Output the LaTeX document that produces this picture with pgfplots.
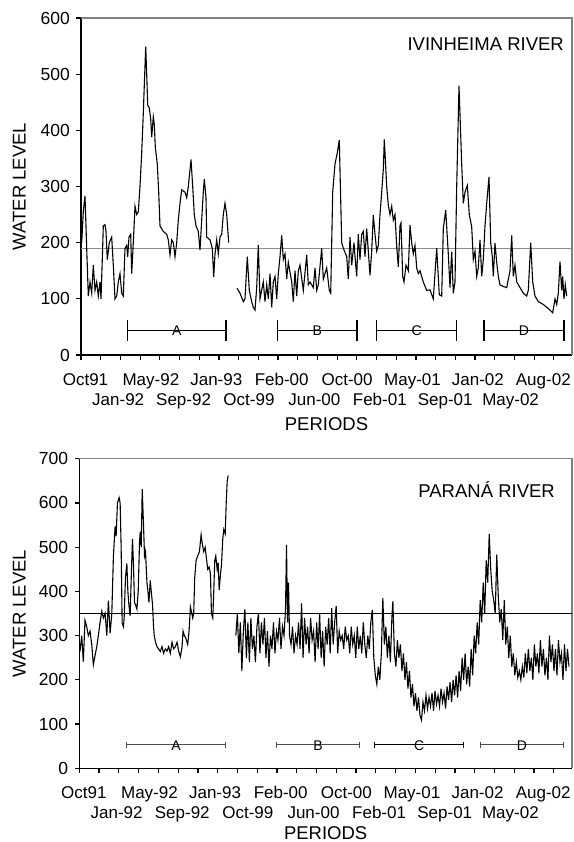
\documentclass[border=0pt]{standalone}
\usepackage{fontspec}
\setmainfont{Liberation Sans}
\usepackage{pgfplots}
\pgfplotsset{compat=1.18}

\definecolor{framegray}{RGB}{128,128,128}
\definecolor{meangray}{RGB}{140,140,140}
\newcommand\lo[1]{\raisebox{-20pt}{#1}}

\pgfplotsset{
  river/.style={
    scale only axis,
    axis x line*=bottom,
    axis y line*=left,
    axis line style={line width=1.2pt},
    xmin=0, xmax=491,
    tick align=outside,
    xtick={4.5,37.2,69.9,102.6,135.3,168,200.7,233.4,266.1,298.8,331.5,364.2,396.9,429.6,462.3},
    xticklabels={Oct91,\lo{Jan-92},May-92,\lo{Sep-92},Jan-93,\lo{Oct-99},Feb-00,\lo{Jun-00},Oct-00,\lo{Feb-01},May-01,\lo{Sep-01},Jan-02,\lo{May-02},Aug-02},
    minor xtick={0,19.7,...,473},
    major tick length=4.5pt,
    minor tick length=5pt,
    major x tick style={draw=none},
    minor x tick style={black,line width=1.2pt},
    major y tick style={black,line width=1.2pt},
    tick label style={font=\fontsize{17}{20}\selectfont},
    yticklabel style={font=\fontsize{17.5}{20}\selectfont},
    /pgf/number format/assume math mode=true,
    xticklabel style={anchor=base, yshift=-26pt},
    yticklabel style={anchor=east, inner sep=0pt, xshift=-6.5pt},
    label style={font=\fontsize{18.5}{22}\selectfont},
    xlabel={PERIODS},
    ylabel={WATER LEVEL},
    unbounded coords=jump,
    clip=false,
  },
}
\tikzset{letter/.style={font=\fontsize{14}{16}\selectfont, inner sep=0pt}}

\begin{document}
\begin{tikzpicture}
\useasboundingbox (-81pt,355pt) rectangle (492pt,-487pt);

% ---------------- Ivinheima River ----------------
\begin{axis}[river,
    at={(0pt,0pt)}, anchor=south west,
    width=491pt, height=337pt,
    ymin=0, ymax=600, ytick={0,100,...,600},
    xlabel style={at={(axis description cs:0.5,-0.2226)}, anchor=base},
    ylabel style={at={(axis description cs:-0.1257,0.5)}, anchor=center},
]
\draw[framegray, line width=1.2pt] (rel axis cs:0,1) -- (rel axis cs:1,1) -- (rel axis cs:1,0);
\addplot[meangray, line width=1.3pt] coordinates {(0,190) (491,190)};
\addplot[black, line width=1.1pt] coordinates {
(0.7,200) (2.3,255) (4,283) (5.7,190) (7.3,105) (9,130) (10.7,110) (12.3,160)
(14,115) (15.7,130) (17.3,105) (19,130) (20,100) (21.3,170) (22.3,230) (24,232)
(25,220) (26.3,170) (28.3,200) (30.7,210) (32.3,160) (34,100) (35.7,105) (37.3,130)
(39,145) (40.7,110) (42.3,105) (44,190) (45.7,195) (46.7,175) (48,210) (49.7,215)
(50.7,145) (52.3,200) (54,265) (55.7,250) (57.3,255) (59,300) (60.7,360) (62.3,430)
(63.7,500) (64.7,549) (65.7,500) (66.7,445) (68.3,440) (69.7,420) (70.7,388) (72.3,424)
(73.3,410) (74.3,370) (76.3,340) (77.7,290) (79,230) (82.3,220) (85.7,215) (87.3,205)
(89,178) (90.7,205) (92.3,200) (94,175) (95.7,200) (97.3,240) (99,270) (100.7,294)
(104,290) (105.7,280) (107.3,300) (109,330) (110,348) (111.7,300) (113.3,250) (115,230)
(117.3,220) (119,187) (120.7,240) (122.3,290) (123.3,313) (125,280) (125.7,210) (129,205)
(131.3,190) (132.7,139) (134,180) (135.7,205) (137.3,180) (139,210) (140.7,215) (142.3,250)
(144,270) (145.7,250) (147.7,200)
(151,nan)
(156,119) (159,110) (162.3,95) (164,100) (166.3,175) (168.3,115) (170.7,95) (172.3,85)
(174,80) (175.7,120) (177.3,196) (179,100) (182.3,130) (184,95) (185.7,125) (187.3,100)
(189,145) (190.7,85) (192.3,130) (194,140) (195.7,100) (197.3,145) (199,175) (200.7,213)
(202.3,170) (204,180) (205.7,135) (207.3,165) (210.7,130) (212.3,95) (214,150) (215.7,105)
(217.3,150) (219,160) (222.3,115) (225.7,178) (227.3,125) (229,130) (232.3,120) (234,155)
(235.7,115) (237.3,125) (240.7,190) (242.3,135) (245.7,155) (248.3,115) (249.7,110) (251.7,290)
(254,340) (256.3,360) (258.3,383) (260.7,200) (262.3,190) (265.7,175) (267.3,135) (269,210)
(270.7,160) (273,200) (274,175) (275.7,140) (277.3,215) (279,170) (280.7,215) (282.3,220)
(284,175) (285.7,225) (287.3,185) (289,142) (290.7,185) (292.3,249) (294,215) (295.7,185)
(297.3,195) (299,250) (300.7,290) (302.3,330) (303.3,384) (305.7,300) (307.3,267) (309,250)
(310.7,265) (312.3,240) (314,250) (315.7,193) (317.3,157) (319,230) (320,235) (321.7,140)
(323,130) (325,160) (327.3,150) (329,231) (330.7,200) (332.3,180) (334,195) (335.7,155)
(337.3,145) (339,150) (342.3,130) (345.7,115) (349,116) (352.3,100) (355.7,190) (358.3,107)
(360.7,105) (362.3,225) (364.7,258) (367.3,180) (369,120) (370.7,184) (372.3,110) (374,130)
(375.7,300) (378,479) (380.7,340) (382.3,270) (384,290) (386.3,302) (388.3,250) (390.7,228)
(392.3,170) (394,185) (395.7,140) (397.3,155) (399,205) (400.7,140) (402.3,170) (404,230)
(405.7,270) (408,317) (409.7,200) (411.3,175) (412.3,140) (414,199) (415.7,165) (417.3,140)
(419,125) (422.3,122) (425.7,120) (429,150) (430.7,213) (432.3,140) (434,160) (435.7,130)
(439,120) (442.3,110) (445.7,105) (447.3,115) (449.7,200) (451.7,130) (454,105) (457.3,95)
(462.3,90) (465.7,85) (469,80) (471.7,75) (474,100) (475.7,90) (477.3,110) (479,166)
(480.7,115) (481.7,140) (483,100) (484.3,125) (485.7,105)
};
\addplot[black, line width=1.2pt, mark=|, mark size=10.5pt, mark options={line width=1.2pt}]
  coordinates {(46.7,43) (145,43) (170,nan) (196.7,43) (276,43) (285,nan)
               (295.7,43) (375.7,43) (390,nan) (403,43) (483,43)};
\node[letter] at (axis cs:95.9,43) {A};
\node[letter] at (axis cs:236.4,43) {B};
\node[letter] at (axis cs:335.7,43) {C};
\node[letter] at (axis cs:443,43) {D};
\node[anchor=base east, inner sep=0pt, font=\fontsize{18.5}{22}\selectfont,
      xshift=-8pt, yshift=-32.7pt] at (rel axis cs:1,1) {IVINHEIMA RIVER};
\end{axis}

% ---------------- Parana River ----------------
\begin{axis}[river,
    at={(-1.7pt,-413.3pt)}, anchor=south west,
    width=492.7pt, height=309.6pt,
    ymin=0, ymax=700, ytick={0,100,...,700},
    xlabel style={at={(axis description cs:0.5,-0.2285)}, anchor=base},
    ylabel style={at={(axis description cs:-0.1218,0.5)}, anchor=center},
]
\draw[framegray, line width=1.2pt] (rel axis cs:0,1) -- (rel axis cs:1,1) -- (rel axis cs:1,0);
\addplot[black, line width=1.3pt] coordinates {(0,350) (491,350)};
\addplot[black, line width=1.1pt] coordinates {
(0.7,264) (2.4,300) (4,241) (5.7,335) (7.4,320) (9,300) (10.7,310) (12.4,280)
(14,234) (15.7,255) (17.4,275) (19,300) (20.7,330) (22.4,355) (24,340) (25.7,350)
(27.4,300) (29,379) (30.7,305) (32.4,350) (34,480) (35.7,547) (36.7,525) (38,600)
(39.7,612) (40.7,600) (41.7,500) (42.7,328) (44,320) (44.7,340) (46,430) (47.4,463)
(48.4,400) (49.4,370) (50.7,345) (52,450) (53,518) (54,460) (55,375) (56,370)
(57.4,360) (58.7,400) (60,510) (60.7,535) (61.7,500) (62.7,631) (64,550) (65,480)
(66,490) (67.4,420) (68.4,400) (69.4,375) (70.7,425) (71.7,400) (73,370) (74,320)
(74.7,300) (76,285) (77.4,275) (79,270) (80.7,264) (82.4,275) (84,260) (85.7,270)
(87.4,265) (89,275) (90.7,260) (92.4,285) (94,270) (95.7,275) (97.4,285) (99,265)
(100.7,252) (102.4,275) (103.4,310) (104.7,300) (106,295) (108,280) (109.4,310) (110.7,365)
(111.7,355) (113,340) (114,350) (115,430) (116.4,470) (118,480) (119.7,490) (121.4,528)
(122.7,505) (124,490) (125.4,500) (126.7,475) (128,450) (129.4,455) (130.7,440) (131.7,350)
(133,340) (134,400) (135,470) (136,480) (137.4,450) (138.4,465) (139.4,403) (140.7,440)
(141.7,460) (143,520) (144,540) (145.4,530) (146.4,600) (147.4,650) (148.4,662)
(152,nan)
(156,300) (157.5,350) (159,260) (160.5,330) (162,220) (163.5,310) (165,360) (166.5,250)
(168,330) (169.5,240) (171,340) (172.5,270) (174,300) (175.5,240) (177,320) (178.5,350)
(180,260) (181.5,330) (183,280) (184.5,340) (186,250) (187.5,310) (189,230) (190.5,300)
(192,270) (193.5,330) (195,260) (196.5,310) (198,290) (199.5,340) (201,270) (202.5,320)
(204,300) (205.5,360) (206.5,505) (207.5,330) (208.5,420) (209.5,300) (211,280) (212.5,320)
(214,260) (215.5,300) (217,280) (218.5,330) (220,270) (221.5,373) (223,250) (224.5,340)
(226,280) (227.5,320) (229,260) (230.5,340) (232,290) (233.5,310) (235,240) (236.5,330)
(238,270) (239.5,350) (241,250) (242.5,310) (244,230) (245.5,320) (247,280) (248.5,340)
(250,260) (251.5,362) (253,280) (254.5,330) (256,367) (257.5,260) (259,310) (260.5,290)
(262,300) (263.5,270) (265,320) (266.5,290) (268,300) (269.5,260) (271,320) (272.5,280)
(274,300) (275.5,250) (277,320) (278.5,270) (280,300) (281.5,260) (283,330) (284.5,280)
(286,250) (287.5,300) (289,270) (290.5,330) (292,358) (293.5,250) (295,210) (296.5,190)
(298,230) (299.5,200) (301,260) (302.5,385) (304,280) (305.5,320) (307,250) (308.5,300)
(310,240) (311.5,340) (312.5,378) (314,260) (315.5,230) (317,290) (318.5,250) (320,280)
(321.5,220) (323,260) (324.5,200) (326,240) (327.5,180) (329,220) (330.5,160) (332,190)
(333.5,140) (335,170) (336.5,130) (338,160) (339.5,120) (341,109) (342.5,150) (344,130)
(345.5,165) (347,135) (348.5,160) (350,140) (351.5,170) (353,130) (354.5,175) (356,145)
(357.5,165) (359,140) (360.5,180) (362,150) (363.5,170) (365,135) (366.5,185) (368,155)
(369.5,195) (371,150) (372.5,200) (374,165) (375.5,210) (377,160) (378.5,220) (380,175)
(381.5,250) (383,200) (384.5,260) (386,190) (387.5,230) (389,185) (390.5,270) (392,210)
(393.5,300) (395,260) (396.5,330) (398,280) (399.5,380) (401,330) (402.5,420) (404,350)
(405.5,470) (407,420) (408.5,530) (410,450) (411.5,400) (413,380) (414.5,350) (416,483)
(417.5,390) (419,330) (420.5,360) (422,290) (423.5,380) (425,280) (426.5,320) (428,250)
(429.5,300) (431,230) (432.5,260) (434,210) (435.5,240) (437,205) (438.5,220) (440,200)
(441.5,230) (443,205) (444.5,260) (446,215) (447.5,270) (449,220) (450.5,250) (452,200)
(453.5,280) (455,230) (456.5,260) (458,215) (459.5,290) (461,230) (462.5,270) (464,210)
(465.5,250) (467,200) (468.5,300) (470,240) (471.5,280) (473,220) (474.5,270) (476,210)
(477.5,290) (479,240) (480.5,260) (482,200) (483.5,280) (485,220) (486.5,270) (488,230)
};
\addplot[black!70, line width=1pt, mark=|, mark size=3pt, mark options={line width=1pt}]
  coordinates {(47.4,53) (145.7,53) (170,nan) (196.7,53) (279,53) (285,nan)
               (400,53) (482.4,53)};
\addplot[black, line width=1pt, mark=|, mark size=3pt, mark options={line width=1pt}]
  coordinates {(294.4,53) (383,53)};
\node[letter] at (axis cs:96.5,51) {A};
\node[letter] at (axis cs:237.9,51) {B};
\node[letter] at (axis cs:338.7,51) {C};
\node[letter] at (axis cs:441.2,51) {D};
\node[anchor=base east, inner sep=0pt, font=\fontsize{18.5}{22}\selectfont,
      xshift=-17pt, yshift=-38.6pt] at (rel axis cs:1,1) {PARANÁ RIVER};
\end{axis}
\end{tikzpicture}
\end{document}
